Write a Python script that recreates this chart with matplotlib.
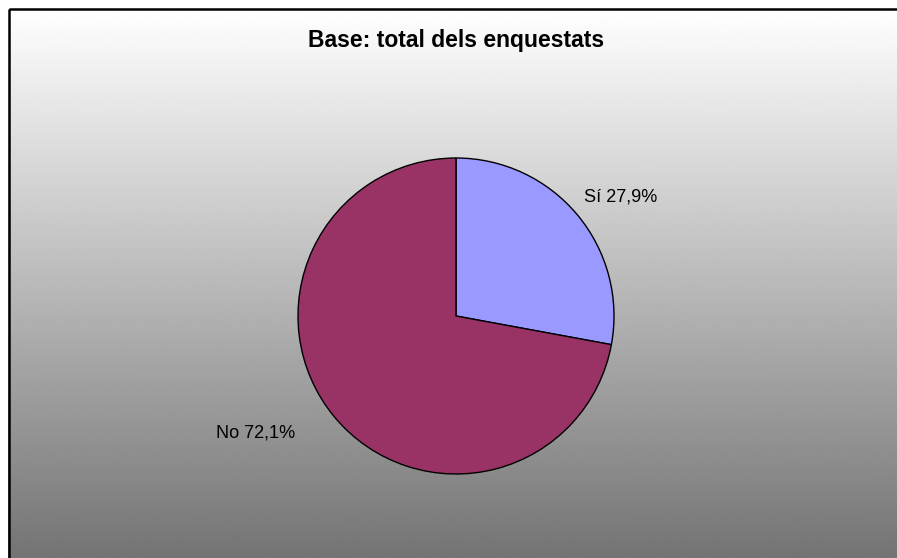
import matplotlib

matplotlib.use("Agg")
import matplotlib.pyplot as plt
import numpy as np
from matplotlib.patches import Rectangle

plt.rcParams["font.family"] = ["Liberation Sans", "DejaVu Sans"]

# data
labels = ["Sí", "No"]
values = [27.9, 72.1]
colors = ["#9999FF", "#993366"]
title = "Base: total dels enquestats"

W, H = 897, 558
fig = plt.figure(figsize=(W / 100, H / 100), dpi=100)

# background gradient (white at top -> grey at bottom) inside a black frame
bg = fig.add_axes([0, 0, 1, 1])
bg.set_xlim(0, W)
bg.set_ylim(H, 0)
bg.axis("off")
grad = np.linspace(1.0, 0.45, 256).reshape(-1, 1)
bg.imshow(grad, cmap="gray", vmin=0, vmax=1, aspect="auto",
          extent=(8, W + 5, H + 5, 8), interpolation="bilinear")
bg.add_patch(Rectangle((8.5, 8.5), W + 10, H + 10, fill=False,
                       edgecolor="black", linewidth=1.8))
bg.text(456, 41, title, ha="center", va="center", fontsize=16.5,
        fontweight="bold")

# pie: centre (456, 316), radius 158 px
cx, cy, r = 456, 316, 158
ax = fig.add_axes([(cx - r) / W, (H - cy - r) / H, 2 * r / W, 2 * r / H])
wedges, _ = ax.pie(values, colors=colors, startangle=90, counterclock=False,
                   wedgeprops=dict(edgecolor="black", linewidth=1.0))
ax.set_xlim(-1, 1)
ax.set_ylim(-1, 1)
ax.set_aspect("auto")

label_pos = [(1.04, 0.75), (-1.27, -0.74)]
for lab, v, (x, y) in zip(labels, values, label_pos):
    ax.text(x, y, f"{lab} {v:.1f}%".replace(".", ","), ha="center",
            va="center", fontsize=13.1, clip_on=False)

fig.savefig("out.png", dpi=100)
